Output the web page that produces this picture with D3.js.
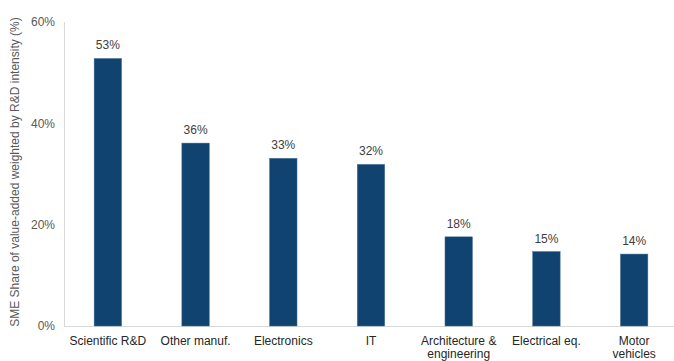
<!DOCTYPE html>
<html><head><meta charset="utf-8">
<script src="https://cdn.jsdelivr.net/npm/d3@7/dist/d3.min.js"></script>
<style>body{margin:0;background:#fff}svg{display:block}text{font-family:"Liberation Sans",Arial,sans-serif}</style>
</head><body><svg id="c" width="674" height="361"></svg>
<script>
const categories = ["Scientific R&D","Other manuf.","Electronics","IT","Architecture &\nengineering","Electrical eq.","Motor\nvehicles"];
const values = [52.8, 36.1, 33.1, 31.9, 17.6, 14.7, 14.2];
const valueLabels = ["53%","36%","33%","32%","18%","15%","14%"];
const yTicks = [0, 20, 40, 60];
const yTitle = "SME Share of value-added weighted by R&D intensity (%)";

const svg = d3.select("#c");
const x = d3.scaleBand().domain(categories).range([64, 678]).paddingInner(0.687).paddingOuter(0.3435);
const y = d3.scaleLinear().domain([0, 60]).range([326, 22]);

// axes lines
svg.append("line").attr("x1",64).attr("x2",674).attr("y1",y(0)+0.5).attr("y2",y(0)+0.5).attr("stroke","#d9d9d9");
svg.append("line").attr("x1",64.5).attr("x2",64.5).attr("y1",y(60)).attr("y2",y(0)).attr("stroke","#d9d9d9");

// y tick labels
const yAxis = d3.axisLeft(y).tickValues(yTicks).tickFormat(d => d + "%").tickSize(0).tickPadding(0);
const ya = svg.append("g").attr("transform","translate(55,0)").call(yAxis);
ya.select(".domain").remove();
ya.selectAll("text").attr("font-size",12).attr("fill","#595959").attr("font-family","Liberation Sans, Arial, sans-serif");

// bars
svg.selectAll("rect.bar").data(values).enter().append("rect")
  .attr("class","bar")
  .attr("x",(d,i)=>x(categories[i]))
  .attr("width",x.bandwidth())
  .attr("y",d=>y(d))
  .attr("height",d=>y(0)-y(d))
  .attr("fill","#10436f")
  .attr("stroke","#4a739a").attr("stroke-width",0.5);

// value labels
svg.selectAll("text.val").data(values).enter().append("text")
  .attr("class","val")
  .attr("x",(d,i)=>x(categories[i])+x.bandwidth()/2)
  .attr("y",d=>y(d)-9)
  .attr("text-anchor","middle").attr("font-size",12).attr("fill","#404040")
  .text((d,i)=>valueLabels[i]);

// category labels
categories.forEach((c,i)=>{
  const t = svg.append("text").attr("text-anchor","middle").attr("font-size",12).attr("fill","#262626")
    .attr("x", x(c)+x.bandwidth()/2).attr("y",345);
  c.split("\n").forEach((line,j)=>{
    t.append("tspan").attr("x", x(c)+x.bandwidth()/2).attr("dy", j===0?0:13).text(line);
  });
});

// y title
svg.append("text").attr("transform","translate(19,172) rotate(-90)")
  .attr("text-anchor","middle").attr("font-size",12).attr("fill","#595959").text(yTitle);
</script></body></html>
